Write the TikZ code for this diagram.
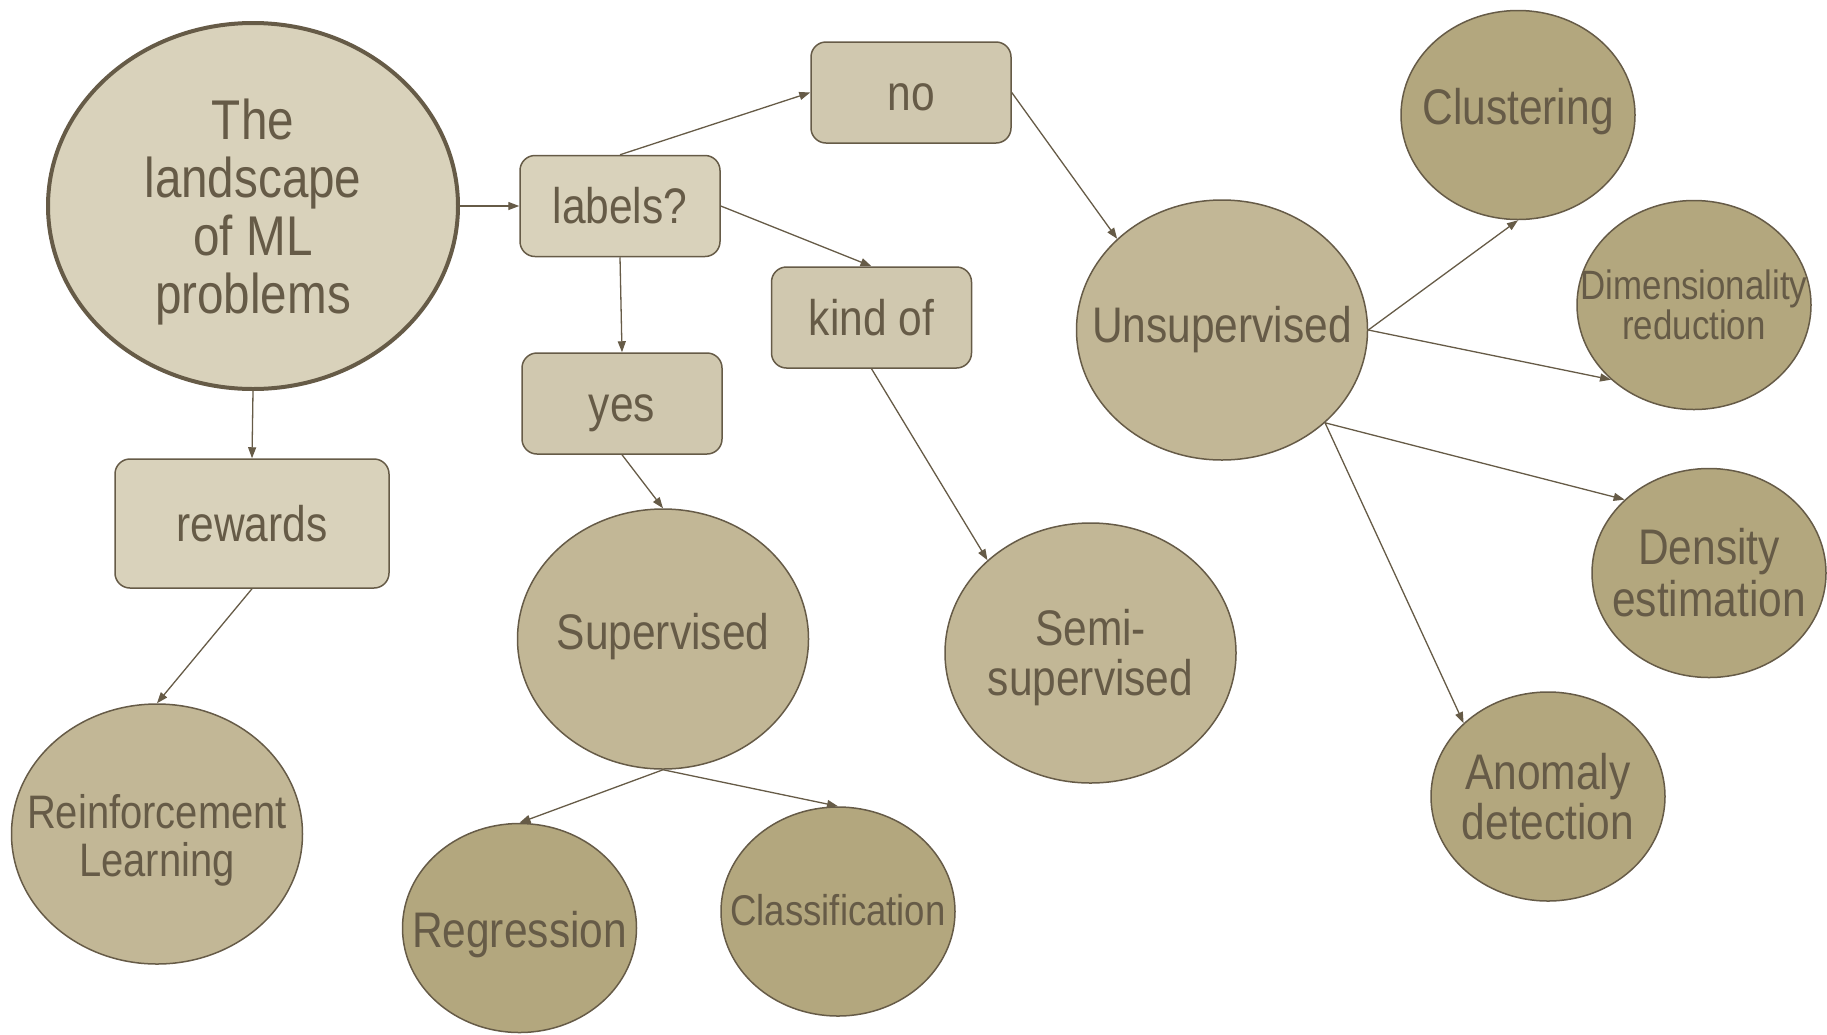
\documentclass[tikz,border=0pt]{standalone}
\usepackage{fontspec}
\setmainfont{Liberation Sans}[FakeStretch=0.85]
\usetikzlibrary{shapes.geometric,arrows.meta}
\definecolor{ink}{HTML}{665B47}
\definecolor{rootfill}{HTML}{D9D2BB}
\definecolor{qfill}{HTML}{D9D2BB}
\definecolor{afill}{HTML}{D0C8AF}
\definecolor{midfill}{HTML}{C2B796}
\definecolor{leaffill}{HTML}{B3A77E}
\newcommand\txtsize[2]{\fontsize{#1}{#2}\selectfont}

\begin{document}
\begin{tikzpicture}[x=1pt,y=-1pt,
  every node/.style={text=ink, align=center, inner sep=0pt, font=\txtsize{50}{50}},
  blob/.style={ellipse, draw=ink, line width=1.5pt},
  mid/.style={blob, fill=midfill, minimum width=291pt, minimum height=260pt},
  leaf/.style={blob, fill=leaffill, minimum width=234pt, minimum height=209pt},
  stepbox/.style={rectangle, rounded corners=15pt, draw=ink, line width=1.5pt,
    minimum width=200pt, minimum height=101pt, text height=40.5pt, text depth=5.5pt},
  link/.style={draw=ink, line width=1.3pt, -{Triangle[length=11pt,width=8pt]}},
]
\useasboundingbox (0,0) rectangle (1827,1034);

% root of the map (the text sits in a centred label so the ellipse keeps its size)
\node[blob, line width=4pt, fill=rootfill, minimum width=410pt, minimum height=366pt,
      label={[font=\txtsize{56}{58}, yshift=-6pt]center:The\\landscape\\of ML\\problems}] (root) at (253,206) {};

% question and answers
\node[stepbox, fill=qfill] (labels) at (620,206) {labels?};
\node[stepbox, fill=afill] (no) at (911,92.5) {no};
\node[stepbox, fill=afill] (kindof) at (871.5,317.5) {kind of};
\node[stepbox, fill=afill] (yes) at (622,403.5) {yes};
\node[stepbox, fill=qfill, minimum width=274pt, minimum height=129pt] (rewards) at (252,523.5) {rewards};

% families of learning
\node[mid, label={center:Unsupervised}] (unsup) at (1222,330) {};
\node[mid, label={[yshift=2pt]center:Supervised}] (sup) at (663,639) {};
\node[mid, label={[yshift=-5pt]center:Semi-\\supervised}] (semi) at (1090.5,653) {};
\node[mid, label={[font=\txtsize{47}{48}, yshift=-6pt]center:Reinforcement\\Learning}] (rl) at (157,834) {};

% tasks
\node[leaf, label={[yshift=3.5pt]center:Clustering}] (clust) at (1518,115) {};
\node[leaf, label={[font=\txtsize{41}{40}]center:Dimensionality\\reduction}] (dim) at (1694,305) {};
\node[leaf, label={[font=\txtsize{50}{52}]center:Density\\estimation}] (dens) at (1709,573) {};
\node[leaf, label={center:Anomaly\\detection}] (anom) at (1548,796.5) {};
\node[leaf, label={[yshift=-7pt]center:Regression}] (reg) at (519.5,928) {};
\node[leaf, label={[font=\txtsize{43}{43}, yshift=1pt]center:Classification}] (cls) at (838,911.5) {};

% connectors
\draw[link] (root.east) -- (labels.west);
\draw[link] (root.south) -- (rewards.north);
\draw[link] (labels.north) -- (no.west);
\draw[link] (labels.east) -- (kindof.north);
\draw[link] (labels.south) -- (yes.north);
\draw[link] (no.east) -- (unsup.139);
\draw[link] (yes.south) -- (sup.north);
\draw[link] (kindof.south) -- (semi.138);
\draw[link] (rewards.south) -- (rl.north);
\draw[link] (sup.south) -- (reg.north);
\draw[link] (sup.south) -- (cls.north);
\draw[link] (unsup.east) -- (clust.south);
\draw[link] (unsup.east) -- (dim.222);
\draw[link] (unsup.318) -- (dens.139);
\draw[link] (unsup.318) -- (anom.139);
\end{tikzpicture}
\end{document}
